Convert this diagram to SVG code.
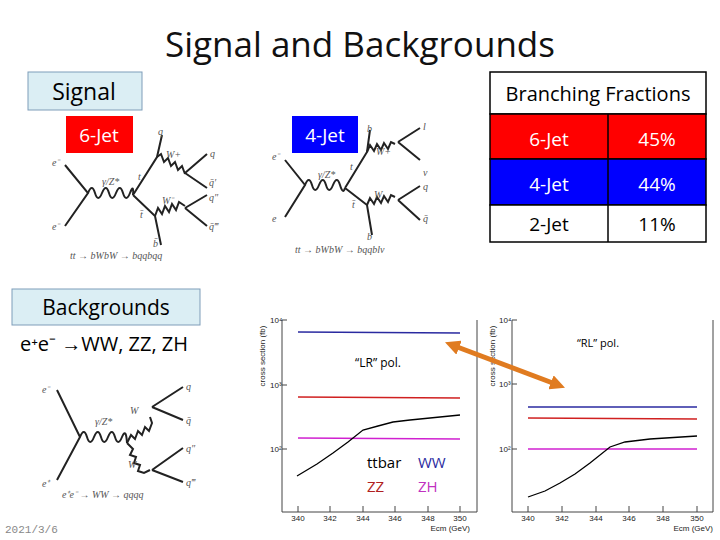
<svg xmlns="http://www.w3.org/2000/svg" width="720" height="540" viewBox="0 0 720 540">
<style>
.t{font-family:"Open Sans","Liberation Sans",sans-serif}
.f{stroke:#222;stroke-width:2;fill:none}
.w{stroke:#222;stroke-width:2;fill:none}
.lb{font-family:"Liberation Serif",serif;font-style:italic;font-size:10px;fill:#555}
.ax{font-family:"Liberation Sans",sans-serif;font-size:8px;fill:#222}
.fr{stroke:#444;stroke-width:1;fill:none}
</style>
<defs>
<marker id="oa" viewBox="0 0 10 10" refX="5" refY="5" markerWidth="3" markerHeight="3" orient="auto-start-reverse"><path d="M0,0L10,5L0,10z" fill="#e07b20"/></marker>
</defs>
<rect width="720" height="540" fill="#fff"/>
<text class="t" x="360" y="57" font-size="35" text-anchor="middle" fill="#111">Signal and Backgrounds</text>

<g id="signal"><rect x="28" y="72" width="114" height="38" fill="#dbeef4" stroke="#7f9db9"/><text class="t" x="84" y="100" font-size="23" text-anchor="middle">Signal</text></g>
<g id="sixjet-label"><rect x="66" y="116" width="67" height="37" fill="#f00"/><text class="t" x="99" y="142" font-size="19" text-anchor="middle" fill="#fff">6-Jet</text></g>
<g id="fourjet-label"><rect x="292" y="116" width="66" height="37" fill="#00f"/><text class="t" x="325" y="142" font-size="19" text-anchor="middle" fill="#fff">4-Jet</text></g>

<g id="table" class="t" font-size="19" text-anchor="middle">
<rect x="490" y="72" width="216" height="42" fill="#fff" stroke="#000" stroke-width="1.5"/>
<text x="598" y="101" font-size="20">Branching Fractions</text>
<rect x="490" y="114" width="216" height="45" fill="#f00" stroke="#000" stroke-width="1.5"/>
<rect x="490" y="159" width="216" height="46" fill="#00f" stroke="#000" stroke-width="1.5"/>
<rect x="490" y="205" width="216" height="37" fill="#fff" stroke="#000" stroke-width="1.5"/>
<line x1="608" y1="114" x2="608" y2="242" stroke="#000" stroke-width="1.5"/>
<text x="549" y="146" fill="#fff">6-Jet</text><text x="657" y="146" fill="#fff">45%</text>
<text x="549" y="191" fill="#fff">4-Jet</text><text x="657" y="191" fill="#fff">44%</text>
<text x="549" y="231">2-Jet</text><text x="657" y="231">11%</text>
</g>

<g id="diagram-6jet">
<path class="f" d="M65,165L88,193L65,226"/>
<path class="w" d="M88,193q4,-10 7,0t7,0t7,0t7,0t7,0t7,0t3,2"/>
<path class="f" d="M133,195L157,157L162,135M133,195L155,216L161,245"/>
<path class="w" d="M157,157l4,-3l3,8l4,-4l3,8l4,-4l3,8l4,-4l3,8"/>
<path class="f" d="M185,173L207,154M185,173L207,188"/>
<path class="w" d="M155,216l3,-8l4,6l3,-8l4,6l3,-8l4,6l3,-8l6,4"/>
<path class="f" d="M185,208L207,195M185,208L207,226"/>
<text class="lb" x="52" y="166">e⁻</text><text class="lb" x="52" y="230">e⁻</text>
<text class="lb" x="102" y="185">γ/Z*</text><text class="lb" x="138" y="180">t</text><text class="lb" x="140" y="218">t̄</text>
<text class="lb" x="158" y="135">q</text><text class="lb" x="166" y="158">W+</text><text class="lb" x="162" y="204">W⁻</text>
<text class="lb" x="210" y="157">q</text><text class="lb" x="209" y="186" font-size="8">q̄′</text><text class="lb" x="209" y="201" font-size="8">q″</text><text class="lb" x="209" y="230">q̄‴</text>
<text class="lb" x="153" y="247">b̄</text>
<text class="lb" x="70" y="259">tt → bWbW → bqqbqq</text>
</g>

<g id="diagram-4jet">
<path class="f" d="M285,160L305,185L285,217"/>
<path class="w" d="M305,185q4,-10 7,0t7,0t7,0t7,0t7,0t5,3"/>
<path class="f" d="M345,188L367,152L370,130M345,188L367,205L372,235"/>
<path class="w" d="M367,152l3,-7l4,6l3,-7l4,6l3,-7l4,6l3,-7l4,2"/>
<path class="w" d="M367,205l3,-7l4,6l3,-7l4,6l3,-7l4,6l3,-7l4,2"/>
<path class="f" d="M398,142L420,128M398,142L420,160M398,200L420,186M398,200L420,220"/>
<text class="lb" x="272" y="160">e⁻</text><text class="lb" x="272" y="222">e</text>
<text class="lb" x="318" y="178">γ/Z*</text><text class="lb" x="350" y="170">t</text><text class="lb" x="352" y="208">t̄</text>
<text class="lb" x="367" y="132">b</text><text class="lb" x="376" y="155">W+</text><text class="lb" x="374" y="198">W</text>
<text class="lb" x="423" y="130">l</text><text class="lb" x="423" y="176">ν</text><text class="lb" x="423" y="190">q</text><text class="lb" x="423" y="222">q̄</text>
<text class="lb" x="367" y="240">b</text>
<text class="lb" x="295" y="253">tt → bWbW → bqqblν</text>
</g>

<g id="backgrounds"><rect x="12" y="289" width="188" height="36" fill="#dbeef4" stroke="#7f9db9"/><text class="t" x="106" y="315" font-size="21" text-anchor="middle">Backgrounds</text>
<text class="t" x="104" y="351" font-size="20" text-anchor="middle">e⁺e⁻ →WW, ZZ, ZH</text></g>

<g id="diagram-ww">
<path class="f" d="M57,390L80,437L57,480"/>
<path class="w" d="M80,437q4,-10 7,0t7,0t7,0t7,0t7,0t7,0t5,6"/>
<path class="w" d="M127,443l4,-8l4,4l3,-8l4,4l3,-8l4,4l3,-8l-2,-6"/>
<path class="w" d="M127,443l6,6l-3,6l6,2l-2,6l6,2l-2,6l6,2l6,-3"/>
<path class="f" d="M152,407L183,387M152,407L183,420M152,470L183,448M152,470L183,482"/>
<text class="lb" x="42" y="393">e⁻</text><text class="lb" x="42" y="487">e⁺</text>
<text class="lb" x="95" y="425">γ/Z*</text><text class="lb" x="130" y="414">W</text><text class="lb" x="128" y="468">W</text>
<text class="lb" x="186" y="390">q</text><text class="lb" x="186" y="424">q̄</text><text class="lb" x="186" y="452">q″</text><text class="lb" x="186" y="486">q‴</text>
<text class="lb" x="62" y="498">e⁺e⁻ → WW → qqqq</text>
</g>

<text x="5" y="533" font-family="Liberation Mono,monospace" font-size="11" fill="#888">2021/3/6</text>

<g id="plot-lr">
<path class="fr" d="M282,320V512H477V320"/>
<path stroke="#444" d="M298,512v-6M330,512v-6M363,512v-6M395,512v-6M428,512v-6M460,512v-6M282,320h5M282,385h5M282,449h5"/>
<g class="ax" text-anchor="middle"><text x="298" y="521">340</text><text x="330" y="521">342</text><text x="363" y="521">344</text><text x="395" y="521">346</text><text x="428" y="521">348</text><text x="460" y="521">350</text></g>
<text class="ax" x="470" y="531" text-anchor="end">Ecm (GeV)</text>
<text class="ax" x="270" y="323">10⁴</text><text class="ax" x="270" y="388">10³</text><text class="ax" x="270" y="452">10²</text>
<text class="ax" transform="translate(265,356) rotate(-90)" text-anchor="middle">cross section (fb)</text>
<path d="M298,332L460,333" stroke="#2a2aa0" stroke-width="1.5"/>
<path d="M298,397L460,398" stroke="#d02020" stroke-width="1.5"/>
<path d="M298,438L460,439" stroke="#d020d0" stroke-width="1.5"/>
<path d="M297,476L317,464L333,453L348,442L363,430L378,426L393,422L410,420L460,415" stroke="#000" stroke-width="1.3" fill="none"/>
<text class="t" x="378" y="367" font-size="12" text-anchor="middle">“LR” pol.</text>
<text class="t" x="367" y="468" font-size="15">ttbar</text><text class="t" x="418" y="468" font-size="15" fill="#2a2aa0">WW</text>
<text class="t" x="367" y="492" font-size="15" fill="#b02020">ZZ</text><text class="t" x="418" y="492" font-size="15" fill="#c030c0">ZH</text>
</g>

<g id="plot-rl">
<path class="fr" d="M512,320V512H713V320"/>
<path stroke="#444" d="M528,512v-6M562,512v-6M596,512v-6M629,512v-6M663,512v-6M697,512v-6M512,320h5M512,384h5M512,449h5"/>
<g class="ax" text-anchor="middle"><text x="528" y="521">340</text><text x="562" y="521">342</text><text x="596" y="521">344</text><text x="629" y="521">346</text><text x="663" y="521">348</text><text x="697" y="521">350</text></g>
<text class="ax" x="713" y="531" text-anchor="end">Ecm (GeV)</text>
<text class="ax" x="499" y="323">10⁴</text><text class="ax" x="499" y="387">10³</text><text class="ax" x="499" y="452">10²</text>
<text class="ax" transform="translate(495,356) rotate(-90)" text-anchor="middle">cross section (fb)</text>
<path d="M528,407L697,407" stroke="#2a2aa0" stroke-width="1.5"/>
<path d="M528,418L697,419" stroke="#d02020" stroke-width="1.5"/>
<path d="M528,449L697,449" stroke="#d020d0" stroke-width="1.5"/>
<path d="M528,497L545,491L560,483L575,474L590,463L610,447L625,442L650,439L697,436" stroke="#000" stroke-width="1.3" fill="none"/>
<text class="t" x="598" y="347" font-size="11" text-anchor="middle">“RL” pol.</text>
</g>

<g id="connectors">
<line x1="452" y1="345" x2="558" y2="385" stroke="#e07b20" stroke-width="5" marker-start="url(#oa)" marker-end="url(#oa)"/>
</g>
</svg>
